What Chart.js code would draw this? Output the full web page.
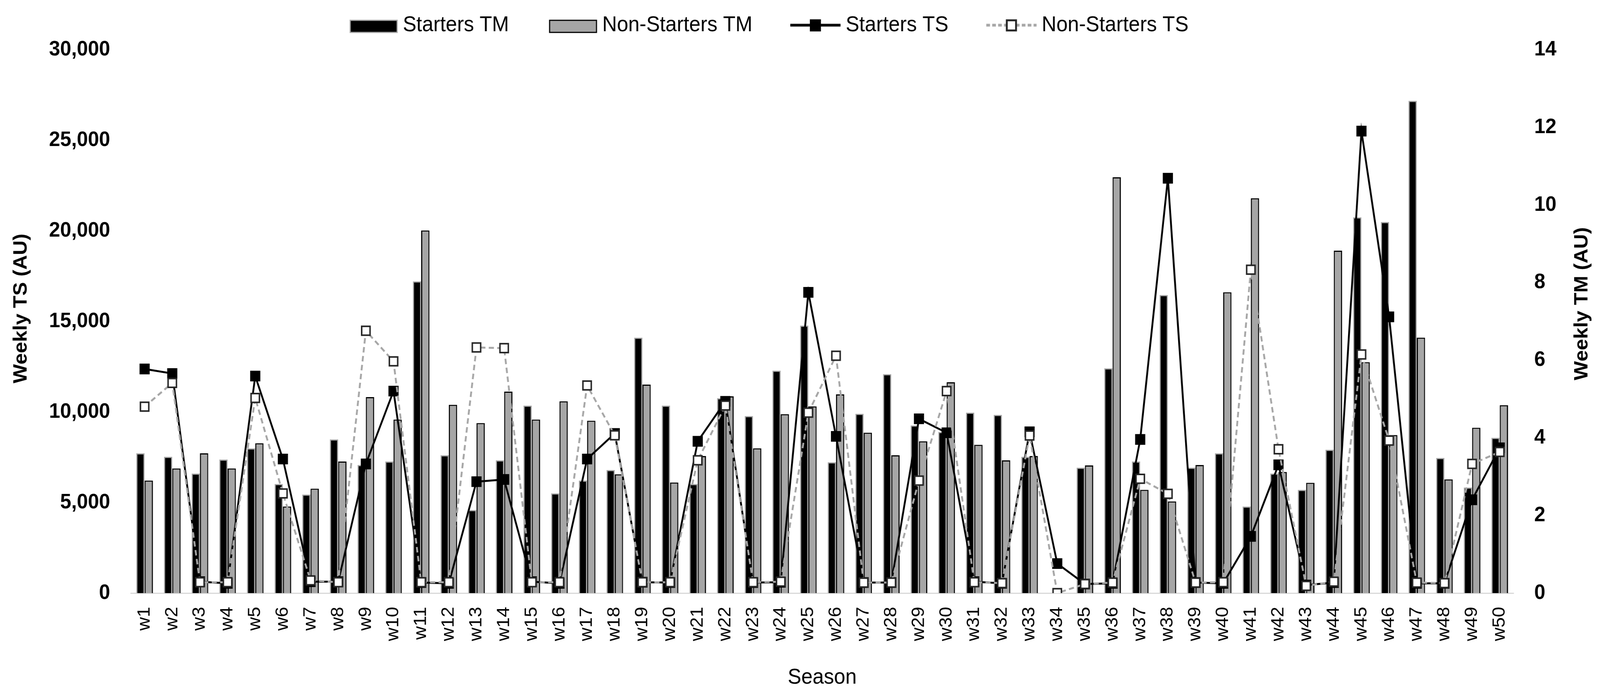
<!DOCTYPE html>
<html>
<head>
<meta charset="utf-8">
<script src="https://cdn.jsdelivr.net/npm/chart.js@4.4.0/dist/chart.umd.min.js"></script>
<style>
  html, body { margin: 0; padding: 0; background: #ffffff; overflow: hidden; }
  #wrap { width: 4331px; height: 1780px; position: relative; transform-origin: 0 0; }
</style>
</head>
<body>
<div id="wrap"><canvas id="chart" width="4331" height="1780"></canvas></div>
<script>
const weeks = [
  "w1", "w2", "w3", "w4", "w5", "w6", "w7", "w8", "w9", "w10",
  "w11", "w12", "w13", "w14", "w15", "w16", "w17", "w18", "w19", "w20",
  "w21", "w22", "w23", "w24", "w25", "w26", "w27", "w28", "w29", "w30",
  "w31", "w32", "w33", "w34", "w35", "w36", "w37", "w38", "w39", "w40",
  "w41", "w42", "w43", "w44", "w45", "w46", "w47", "w48", "w49", "w50",
];

// weekly TM (right axis)
const startersTM = [
  3.60, 3.51, 3.08, 3.44, 3.73, 2.81, 2.54, 3.96, 3.30, 3.39,
  8.03, 3.55, 2.14, 3.42, 4.83, 2.57, 2.90, 3.17, 6.58, 4.83,
  2.81, 5.02, 4.56, 5.73, 6.89, 3.37, 4.62, 5.64, 4.32, 4.15,
  4.65, 4.59, 3.51, 0, 3.23, 5.79, 3.39, 7.68, 3.23, 3.60,
  2.23, 3.08, 2.66, 3.69, 9.68, 9.56, 12.68, 3.48, 2.72, 4.00,
];
const nonStartersTM = [
  2.90, 3.21, 3.60, 3.21, 3.86, 2.23, 2.69, 3.39, 5.05, 4.47,
  9.34, 4.85, 4.38, 5.19, 4.47, 4.94, 4.44, 3.06, 5.37, 2.85,
  3.53, 5.07, 3.73, 4.61, 4.81, 5.12, 4.13, 3.55, 3.91, 5.43,
  3.82, 3.42, 3.53, 0, 3.29, 10.71, 2.66, 2.36, 3.30, 7.75,
  10.17, 3.12, 2.84, 8.82, 5.95, 4.07, 6.58, 2.93, 4.26, 4.84,
];

// weekly TS (left axis)
const startersTS = [
  12370, 12120, 630, 540, 11980, 7400, 630, 630, 7130, 11150,
  580, 540, 6150, 6270, 630, 540, 7400, 8810, 600, 580,
  8380, 10580, 580, 600, 16600, 8650, 580, 580, 9620, 8850,
  630, 540, 8900, 1630, 500, 540, 8480, 22900, 580, 540,
  3130, 7080, 440, 580, 25500, 15250, 540, 540, 5150, 8020,
];
const nonStartersTS = [
  10290, 11600, 600, 600, 10770, 5500, 700, 600, 14480, 12790,
  600, 600, 13560, 13520, 600, 600, 11460, 8710, 600, 600,
  7330, 10350, 600, 630, 9960, 13100, 580, 580, 6210, 11150,
  600, 550, 8700, 0, 500, 580, 6310, 5480, 580, 600,
  17850, 7940, 400, 630, 13170, 8420, 580, 550, 7130, 7790,
];

const tsTicks = [0, 5000, 10000, 15000, 20000, 25000, 30000];
const tmTicks = [0, 2, 4, 6, 8, 10, 12, 14];

const FONT = "'Liberation Sans', Arial, sans-serif";
const GREY = "#a6a6a6";

// the browser window may be narrower than the chart: squeeze it to fit
const wrap = document.getElementById("wrap");
wrap.style.transform = "scaleX(" + Math.min(1, window.innerWidth / 4331) + ")";

// little canvases used as legend symbols (blank on the left = gap between items)
const barPatch = (fill, stroke) => {
  const c = document.createElement("canvas");
  c.width = 246;
  c.height = 50;
  const ctx = c.getContext("2d");
  ctx.fillStyle = fill;
  ctx.fillRect(114, 11, 130, 34);
  ctx.strokeStyle = stroke;
  ctx.lineWidth = 3;
  ctx.strokeRect(115.5, 12.5, 127, 31);
  return c;
};
const linePatch = (color, dash, markerFill, markerStroke) => {
  const c = document.createElement("canvas");
  c.width = 246;
  c.height = 50;
  const ctx = c.getContext("2d");
  ctx.strokeStyle = color;
  ctx.lineWidth = 7;
  ctx.setLineDash(dash);
  ctx.beginPath();
  ctx.moveTo(108, 25);
  ctx.lineTo(244, 25);
  ctx.stroke();
  ctx.setLineDash([]);
  ctx.fillStyle = markerFill;
  ctx.fillRect(161, 10, 30, 31);
  ctx.strokeStyle = markerStroke;
  ctx.lineWidth = 5;
  ctx.strokeRect(163.5, 12.5, 25, 26);
  return c;
};
const legendSymbols = [
  barPatch("#000000", GREY),
  barPatch(GREY, "#000000"),
  linePatch("#000000", [], "#000000", "#000000"),
  linePatch(GREY, [10, 6], "#ffffff", "#262626"),
];

const drawAxisTitle = (ctx, text, x, y) => {
  ctx.save();
  ctx.translate(x, y);
  ctx.rotate(-Math.PI / 2);
  ctx.font = "bold 52px " + FONT;
  ctx.fillStyle = "#000000";
  ctx.textAlign = "center";
  ctx.textBaseline = "middle";
  ctx.fillText(text, 0, 0);
  ctx.restore();
};

const layoutTweaks = {
  id: "layoutTweaks",
  beforeInit(chart) {
    const legend = chart.legend;
    const fit = legend.fit;
    legend.fit = function () {
      fit.call(this);
      this.height = 127;
    };
    const draw = legend.draw;
    legend.draw = function () {
      const ctx = this.ctx;
      ctx.save();
      ctx.translate(-133, 27);
      draw.apply(this, arguments);
      ctx.restore();
    };
  },
  afterDraw(chart) {
    // both axis titles read bottom-to-top
    drawAxisTitle(chart.ctx, "Weekly TS (AU)", 58, 790);
    drawAxisTitle(chart.ctx, "Weekly TM (AU)", 4283, 778);
  },
};

const canvas = document.getElementById("chart");
new Chart(canvas, {
  data: {
    labels: weeks,
    datasets: [
      {
        type: "bar",
        label: "Starters TM",
        data: startersTM,
        yAxisID: "y1",
        backgroundColor: "#000000",
        borderColor: GREY,
        borderWidth: 3,
        order: 2,
      },
      {
        type: "bar",
        label: "Non-Starters TM",
        data: nonStartersTM,
        yAxisID: "y1",
        backgroundColor: GREY,
        borderColor: "#000000",
        borderWidth: 3,
        order: 3,
      },
      {
        type: "line",
        label: "Starters TS",
        data: startersTS,
        yAxisID: "y",
        borderColor: "#000000",
        borderWidth: 5,
        pointStyle: "rect",
        pointRadius: 18,
        pointBackgroundColor: "#000000",
        pointBorderColor: "#000000",
        pointBorderWidth: 2,
        order: 1,
      },
      {
        type: "line",
        label: "Non-Starters TS",
        data: nonStartersTS,
        yAxisID: "y",
        borderColor: GREY,
        borderWidth: 5,
        borderDash: [14, 9],
        pointStyle: "rect",
        pointRadius: 16,
        pointBackgroundColor: "#ffffff",
        pointBorderColor: "#262626",
        pointBorderWidth: 4,
        order: 0,
      },
    ],
  },
  options: {
    responsive: false,
    animation: false,
    devicePixelRatio: 1,
    layout: { padding: 0 },
    datasets: {
      bar: { categoryPercentage: 0.6, barPercentage: 1.0 },
    },
    plugins: {
      tooltip: { enabled: false },
      legend: {
        position: "top",
        labels: {
          usePointStyle: true,
          pointStyleWidth: 215,
          padding: 10,
          color: "#000000",
          font: { family: FONT, size: 55 },
          generateLabels: (chart) =>
            chart.data.datasets.map((ds, i) => ({
              text: ds.label,
              pointStyle: legendSymbols[i],
              fillStyle: "#000000",
              strokeStyle: "#000000",
              lineWidth: 0,
              hidden: false,
              datasetIndex: i,
              fontColor: "#000000",
            })),
        },
      },
    },
    scales: {
      x: {
        type: "category",
        offset: true,
        grid: { display: false, drawTicks: false },
        border: { display: true, color: "#d9d9d9", width: 3 },
        ticks: {
          autoSkip: false,
          minRotation: 90,
          maxRotation: 90,
          padding: 35,
          color: "#000000",
          font: { family: FONT, size: 48 },
        },
        title: {
          display: true,
          text: "Season",
          color: "#000000",
          font: { family: FONT, size: 55 },
          padding: { top: 0, bottom: 11 },
        },
        afterFit: (scale) => {
          scale.height = 261;
        },
      },
      y: {
        type: "linear",
        position: "left",
        min: 0,
        max: 30000,
        grid: { display: false, drawTicks: false },
        border: { display: false },
        afterBuildTicks: (scale) => {
          scale.ticks = tsTicks.map((v) => ({ value: v }));
        },
        ticks: {
          padding: 56,
          color: "#000000",
          font: { family: FONT, size: 54, weight: "bold" },
          callback: (v) => Number(v).toLocaleString("en-US"),
        },
        afterFit: (scale) => {
          scale.width = 354;
        },
      },
      y1: {
        type: "linear",
        position: "right",
        min: 0,
        max: 14,
        grid: { display: false, drawTicks: false },
        border: { display: false },
        afterBuildTicks: (scale) => {
          scale.ticks = tmTicks.map((v) => ({ value: v }));
        },
        ticks: {
          padding: 56,
          color: "#000000",
          font: { family: FONT, size: 54, weight: "bold" },
        },
        afterFit: (scale) => {
          scale.width = 234;
        },
      },
    },
  },
  plugins: [layoutTweaks],
});
</script>
</body>
</html>
